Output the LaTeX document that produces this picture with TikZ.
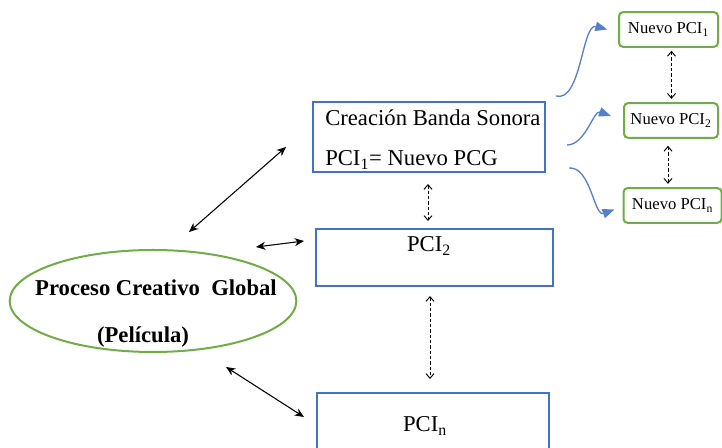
\documentclass[tikz,border=0pt]{standalone}
\usepackage{fontspec}
\setmainfont{Liberation Serif}
\usetikzlibrary{arrows.meta}
\usetikzlibrary{positioning}
\usetikzlibrary{shapes.geometric}
\definecolor{pcblue}{HTML}{4472C4}
\definecolor{pcgreen}{HTML}{70AD47}
\tikzset{
  bbox/.style= {draw=pcblue, line width=1.5pt, minimum width=174pt},
  gbox/.style= {draw=pcgreen, line width=1.5pt, rounded corners=3pt, minimum height=26pt,
                inner sep=2pt, font=\fontsize{12.5}{14}\selectfont},
  gloval/.style= {draw=pcgreen, line width=1.5pt, ellipse, minimum width=215pt,
                  minimum height=76.5pt, inner sep=0},
  txt/.style= {anchor=base, inner sep=0, font=\fontsize{17}{20}\selectfont},
  link/.style= {{Stealth[length=7pt,width=6pt]}-{Stealth[length=7pt,width=6pt]}, line width=0.8pt},
  dlink/.style= {{Straight Barb[length=3.5pt,width=6pt]}-{Straight Barb[length=3.5pt,width=6pt]},
                 dash pattern=on 2.5pt off 1.5pt, line width=0.7pt},
  curv/.style= {-{Triangle[length=9pt,width=7pt]}, color=pcblue!90!white, line width=1pt},
}

\begin{document}
\begin{tikzpicture}[x=0.75pt, y=-0.75pt]
  \clip (0,0) rectangle (722,448);
  % global process
  \node [gloval] (proc) at (153,301) {};
  \node [txt, font=\fontsize{17}{20}\selectfont\bfseries] (proct) at (156,296) {Proceso Creativo\ \ Global};
  \node [txt, font=\fontsize{17}{20}\selectfont\bfseries] (procp) at (143,343) {(Película)};

  % inner processes
  \node [bbox, minimum height=52.5pt] (banda) at (429,137) {};
  \node [txt, anchor=base west] (bandat) at (325,126) {Creación Banda Sonora};
  \node [txt, anchor=base west] (pcgt) at (325,166) {PCI\textsubscript{1}= Nuevo PCG};
  \node [bbox, minimum width=177.75pt, minimum height=42.75pt] (pci2) at (434.5,257.5) {};
  \node [txt] (pci2t) at (429,252) {PCI\textsubscript{2}};
  \node [bbox, minimum height=60pt] (pcin) at (433,433) {};
  \node [txt] (pcint) at (425,432) {PCI\textsubscript{n}};

  % new processes
  \node [gbox, minimum width=74.25pt] (nuevo1) at (668.5,29.5) {Nuevo PCI\textsubscript{1}};
  \node [gbox, minimum width=70.5pt] (nuevo2) at (671,120.5) {Nuevo PCI\textsubscript{2}};
  \node [gbox, minimum width=73.5pt] (nuevon) at (672.5,205.5) {Nuevo PCI\textsubscript{n}};

  \draw [link] ([shift={(36,-17)}]proc.north) -- ([shift={(-26,10)}]banda.west);
  \draw [link] ([shift={(103,-2)}]proc.north) -- ([shift={(-11,-16.5)}]pci2.west);
  \draw [link] ([shift={(73,14)}]proc.south) -- ([shift={(-12,25)}]pcin.north west);

  \draw [dlink] ([shift={(-1,11)}]banda.south) -- ++(0,37);
  \draw [dlink] ([shift={(-4.5,9)}]pci2.south) -- ++(0,83);
  \draw [dlink] ([shift={(3,3)}]nuevo1.south) -- ++(0,48);
  \draw [dlink] ([shift={(-3,7)}]nuevo2.south) -- ++(0,38);

  \draw [curv] ([shift={(10,-5)}]banda.north east) to [out=-15, in=165, looseness=0.8] ([xshift=-8]nuevo1.west);
  \draw [curv] ([shift={(21,8)}]banda.east) to [out=0, in=160, looseness=0.9] ([shift={(-12,-4.5)}]nuevo2.west);
  \draw [curv] ([shift={(23,-5)}]banda.south east) to [out=5, in=200, looseness=0.9] ([shift={(-8,4)}]nuevon.west);
\end{tikzpicture}
\end{document}
